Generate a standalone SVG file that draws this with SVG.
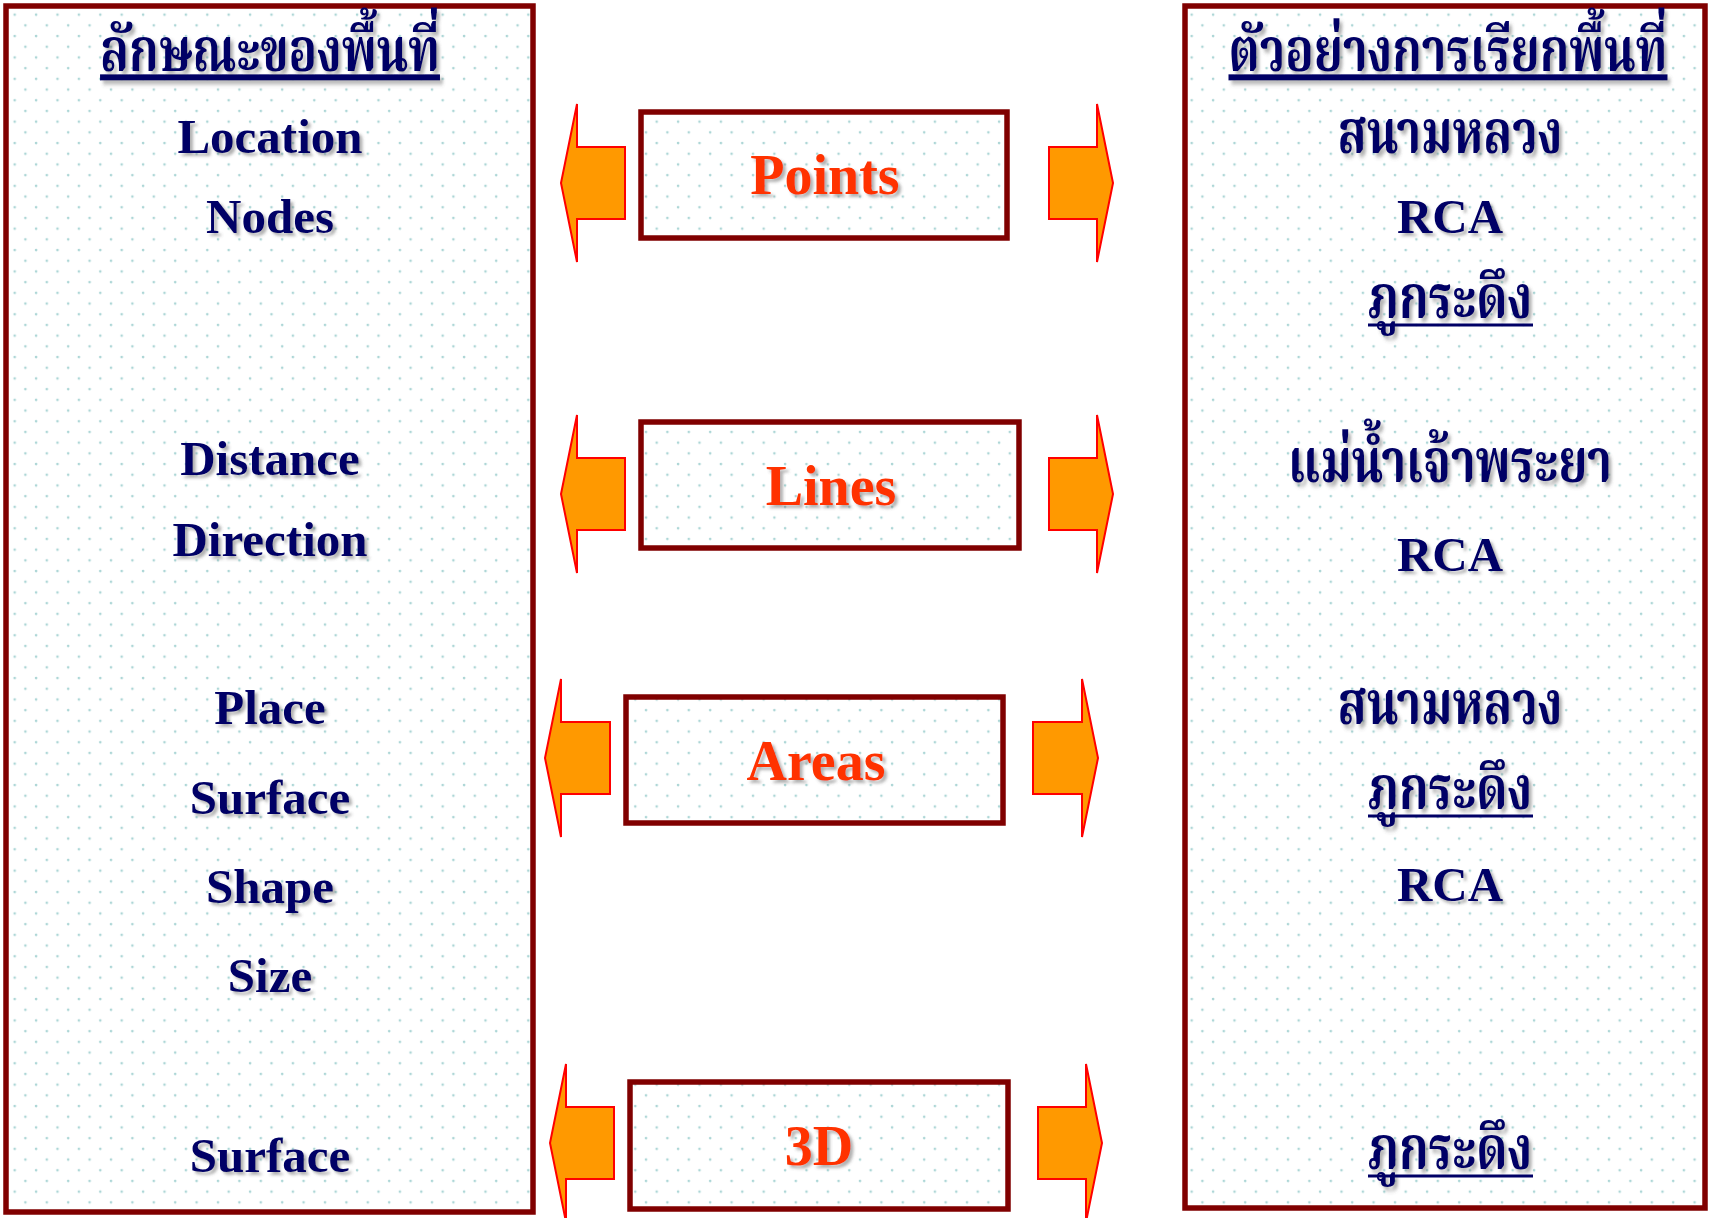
<svg xmlns="http://www.w3.org/2000/svg" width="1710" height="1218" viewBox="0 0 1710 1218">
<defs>
<pattern id="dots" x="0" y="0" width="21.4" height="21.4" patternUnits="userSpaceOnUse">
<rect width="21.4" height="21.4" fill="#ffffff"/>
<circle cx="4" cy="4" r="1.3" fill="#acd6d6"/>
<circle cx="14.7" cy="14.7" r="1.3" fill="#acd6d6"/>
</pattern>
<filter id="sh" x="-10%" y="-20%" width="130%" height="150%">
<feDropShadow dx="3" dy="3" stdDeviation="1.6" flood-color="#555555" flood-opacity="0.45"/>
</filter>
</defs>
<style>
.panel{fill:url(#dots);stroke:#800000;stroke-width:5.5}
.box{fill:url(#dots);stroke:#800000;stroke-width:5.5}
.arr{fill:#ff9900;stroke:#ff0000;stroke-width:2;stroke-linejoin:miter}
.t{font-family:"Liberation Serif","Noto Serif Thai","Noto Sans Thai","Loma","Garuda",serif;font-weight:bold;fill:#000066;text-anchor:middle;filter:url(#sh)}
.n{font-size:49px}
.th{font-size:47px}
.u{text-decoration:underline;text-decoration-skip-ink:none}
.ul{stroke:#000066;stroke-width:2.8}
.b{font-family:"Liberation Serif",serif;font-weight:bold;fill:#ff3300;text-anchor:middle;font-size:56px;filter:url(#sh)}
</style>
<rect width="1710" height="1218" fill="#ffffff"/>

<g id="left-panel">
<rect class="panel" x="6" y="6" width="527" height="1206"/>
<text class="t th u" x="0" y="0" transform="translate(270,71) scale(1,1.28)">ลักษณะของพื้นที่</text>
<text class="t n" x="270" y="153">Location</text>
<text class="t n" x="270" y="233">Nodes</text>
<text class="t n" x="270" y="475">Distance</text>
<text class="t n" x="270" y="556">Direction</text>
<text class="t n" x="270" y="724">Place</text>
<text class="t n" x="270" y="814">Surface</text>
<text class="t n" x="270" y="903">Shape</text>
<text class="t n" x="270" y="992">Size</text>
<text class="t n" x="270" y="1172">Surface</text>
</g>

<g id="right-panel">
<rect class="panel" x="1185" y="6" width="520" height="1202"/>
<text class="t th u" x="0" y="0" transform="translate(1448,71) scale(1,1.28)">ตัวอย่างการเรียกพื้นที่</text>
<text class="t th" x="0" y="0" transform="translate(1450,153) scale(1,1.28)">สนามหลวง</text>
<text class="t n" x="1450" y="233">RCA</text>
<text class="t th" x="0" y="0" transform="translate(1450,318) scale(1,1.28)">ภูกระดึง</text>
<line class="ul" x1="1368" y1="325" x2="1533" y2="325"/>
<text class="t th" x="0" y="0" transform="translate(1450,482) scale(1,1.28)">แม่น้ำเจ้าพระยา</text>
<text class="t n" x="1450" y="571">RCA</text>
<text class="t th" x="0" y="0" transform="translate(1450,724) scale(1,1.28)">สนามหลวง</text>
<text class="t th" x="0" y="0" transform="translate(1450,809) scale(1,1.28)">ภูกระดึง</text>
<line class="ul" x1="1368" y1="816" x2="1533" y2="816"/>
<text class="t n" x="1450" y="901">RCA</text>
<text class="t th" x="0" y="0" transform="translate(1450,1169) scale(1,1.28)">ภูกระดึง</text>
<line class="ul" x1="1368" y1="1176" x2="1533" y2="1176"/>
</g>

<g id="points">
<rect class="box" x="641" y="112" width="366" height="126"/>
<text class="b" x="825" y="194">Points</text>
</g>
<g id="lines">
<rect class="box" x="641" y="422" width="378" height="126"/>
<text class="b" x="831" y="505">Lines</text>
</g>
<g id="areas">
<rect class="box" x="626" y="697" width="377" height="126"/>
<text class="b" x="816" y="780">Areas</text>
</g>
<g id="threeD">
<rect class="box" x="630" y="1082" width="378" height="127"/>
<text class="b" x="819" y="1165">3D</text>
</g>

<g id="connectors">
<polygon class="arr" points="625,147 577,147 577,104 561,183 577,262 577,219 625,219"/>
<polygon class="arr" points="1049,147 1097,147 1097,104 1113,183 1097,262 1097,219 1049,219"/>
<polygon class="arr" points="625,458 577,458 577,415 561,494 577,573 577,530 625,530"/>
<polygon class="arr" points="1049,458 1097,458 1097,415 1113,494 1097,573 1097,530 1049,530"/>
<polygon class="arr" points="610,722 561,722 561,679 545,758 561,837 561,794 610,794"/>
<polygon class="arr" points="1033,722 1082,722 1082,679 1098,758 1082,837 1082,794 1033,794"/>
<polygon class="arr" points="614,1107 566,1107 566,1064 550,1143 566,1222 566,1179 614,1179"/>
<polygon class="arr" points="1038,1107 1086,1107 1086,1064 1102,1143 1086,1222 1086,1179 1038,1179"/>
</g>
</svg>
